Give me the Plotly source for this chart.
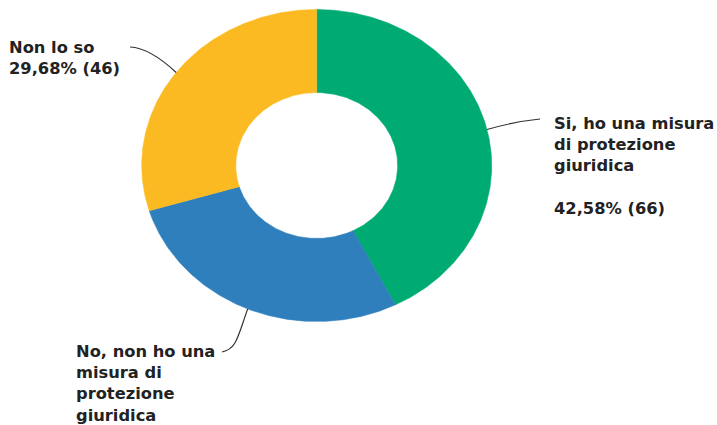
import numpy as np
import plotly.graph_objects as go

# ---- data ----
categories = ["Si, ho una misura di protezione giuridica",
              "No, non ho una misura di protezione giuridica",
              "Non lo so"]
label_texts = ["Si, ho una misura<br>di protezione<br>giuridica<br><br>42,58% (66)",
               "No, non ho una<br>misura di<br>protezione<br>giuridica<br><br>27,74% (43)",
               "Non lo so<br>29,68% (46)"]
counts = [66, 43, 46]
colors = ["#00AB73", "#2F7FBC", "#FBBA22"]

# ---- layout constants (pixel space) ----
W, H = 717, 425
CX, CY = 316.7, 165.5
RX_OUT, RY_OUT = 175.0, 156.0
RX_IN, RY_IN = 81.0, 73.0

label_pos = [(552, 111.5), (74, 340), (7, 36)]  # top-left of each label box
label_end = [(540, 119), (222, 352), (130, 47)]  # end of leader line near label

fig = go.Figure()

total = sum(counts)
start = 0.0
mids = []
for cat, c, col in zip(categories, counts, colors):
    frac = c / total
    a0 = start * 2 * np.pi
    a1 = (start + frac) * 2 * np.pi
    t = np.linspace(a0, a1, 200)
    xo = CX + RX_OUT * np.sin(t)
    yo = CY - RY_OUT * np.cos(t)
    xi = CX + RX_IN * np.sin(t[::-1])
    yi = CY - RY_IN * np.cos(t[::-1])
    xs = np.concatenate([xo, xi, xo[:1]])
    ys = np.concatenate([yo, yi, yo[:1]])
    fig.add_trace(go.Scatter(x=xs, y=ys, fill="toself", fillcolor=col,
                             mode="lines", line=dict(width=0.6, color=col),
                             name=cat, hoverinfo="name", showlegend=False))
    mids.append((start + frac / 2) * 2 * np.pi)
    start += frac

# leader lines
for i, (m, (ex, ey)) in enumerate(zip(mids, label_end)):
    sx = CX + RX_OUT * np.sin(m)
    sy = CY - RY_OUT * np.cos(m)
    if i == 0:
        path = f"M {sx:.1f} {sy:.1f} Q {sx+28:.1f} {sy-8:.1f} {ex} {ey}"
    elif i == 1:
        path = f"M {sx:.1f} {sy:.1f} C {sx-10:.1f} {sy+28:.1f} {sx-11:.1f} {sy+40:.1f} {ex} {ey}"
    else:
        path = f"M {sx:.1f} {sy:.1f} Q {ex+20:.1f} {ey+1:.1f} {ex} {ey}"
    fig.add_shape(type="path", path=path, xref="x", yref="y",
                  line=dict(color="#333333", width=1.2))

for txt, (lx, ly) in zip(label_texts, label_pos):
    fig.add_annotation(x=lx, y=ly, xref="x", yref="y", text=txt,
                       showarrow=False, xanchor="left", yanchor="top",
                       align="left",
                       font=dict(family="DejaVu Sans", size=16.3, color="#222222",
                                 weight=700))

fig.update_layout(
    width=W, height=H, autosize=False,
    margin=dict(l=0, r=0, t=0, b=0),
    paper_bgcolor="white", plot_bgcolor="white",
    xaxis=dict(range=[0, W], visible=False, fixedrange=True),
    yaxis=dict(range=[H, 0], visible=False, fixedrange=True),
    showlegend=False,
)

fig.write_html("out.html")
